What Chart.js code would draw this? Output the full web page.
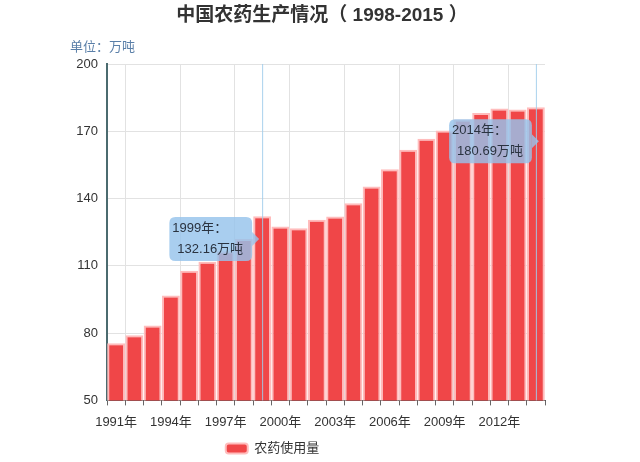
<!DOCTYPE html>
<html>
<head>
<meta charset="utf-8">
<script src="https://cdn.jsdelivr.net/npm/chart.js@4"></script>
<style>
  html, body { margin: 0; padding: 0; background: #fff; }
  #wrap { width: 640px; height: 462px; }
</style>
</head>
<body>
<div id="wrap"><canvas id="pesticideChart" width="640" height="462"></canvas></div>
<script>
// 数据
const years = [
  "1991年", "1992年", "1993年", "1994年", "1995年", "1996年", "1997年", "1998年",
  "1999年", "2000年", "2001年", "2002年", "2003年", "2004年", "2005年", "2006年",
  "2007年", "2008年", "2009年", "2010年", "2011年", "2012年", "2013年", "2014年",
];
const usage = [
  75.5, 79.0, 83.4, 96.8, 107.8, 111.8, 116.5, 122.0,
  132.16, 127.5, 126.8, 130.5, 132.0, 137.9, 145.4, 153.1,
  161.8, 166.7, 170.3, 175.2, 178.2, 180.2, 179.7, 180.69,
];
const yMin = 50;
const yMax = 200;
const yStep = 30;
const seriesName = "农药使用量";
const titleText = "中国农药生产情况（ 1998-2015 ）";
const unitText = "单位：万吨";
const calloutIndexes = [8, 23];

const FONT = "'Liberation Sans', 'Noto Sans CJK SC', sans-serif";

function roundRect(ctx, x, y, w, h, r) {
  ctx.beginPath();
  ctx.moveTo(x + r, y);
  ctx.lineTo(x + w - r, y);
  ctx.quadraticCurveTo(x + w, y, x + w, y + r);
  ctx.lineTo(x + w, y + h - r);
  ctx.quadraticCurveTo(x + w, y + h, x + w - r, y + h);
  ctx.lineTo(x + r, y + h);
  ctx.quadraticCurveTo(x, y + h, x, y + h - r);
  ctx.lineTo(x, y + r);
  ctx.quadraticCurveTo(x, y, x + r, y);
  ctx.closePath();
}

// 标题和单位文字
const headerPlugin = {
  id: "header",
  afterDraw(chart) {
    const ctx = chart.ctx;
    ctx.save();
    ctx.fillStyle = "#333";
    ctx.font = "bold 19px " + FONT;
    ctx.textAlign = "center";
    ctx.textBaseline = "middle";
    ctx.fillText(titleText, 322, 16);
    ctx.fillStyle = "#5a7fa8";
    ctx.font = "13px " + FONT;
    ctx.textAlign = "left";
    ctx.fillText(unitText, 70, 47);
    ctx.restore();
  },
};

// 固定显示的提示框
const calloutPlugin = {
  id: "callouts",
  afterDatasetsDraw(chart, args, opts) {
    const ctx = chart.ctx;
    const xs = chart.scales.x;
    const ys = chart.scales.y;
    const area = chart.chartArea;
    ctx.save();
    opts.items.forEach((item) => {
      const cx = xs.getPixelForValue(item.index);
      ctx.strokeStyle = "rgba(160, 205, 235, 0.9)";
      ctx.lineWidth = 1;
      ctx.beginPath();
      ctx.moveTo(cx + 0.5, area.top);
      ctx.lineTo(cx + 0.5, area.bottom);
      ctx.stroke();
    });
    opts.items.forEach((item) => {
      const cx = xs.getPixelForValue(item.index);
      const tipY = ys.getPixelForValue(item.anchor);
      const tipX = cx + item.dx;
      const line1 = years[item.index] + "：";
      const line2 = usage[item.index].toFixed(2) + "万吨";
      ctx.font = "13px " + FONT;
      const w = Math.max(ctx.measureText(line1).width, ctx.measureText(line2).width + 5) + 12;
      const h = 44;
      const right = tipX - 7;
      const left = right - w;
      const top = tipY - h / 2;
      ctx.fillStyle = "rgba(150, 195, 235, 0.82)";
      roundRect(ctx, left, top, w, h, 6);
      ctx.fill();
      ctx.beginPath();
      ctx.moveTo(right, tipY - 7);
      ctx.lineTo(tipX, tipY);
      ctx.lineTo(right, tipY + 7);
      ctx.closePath();
      ctx.fill();
      ctx.fillStyle = "#2a3340";
      ctx.textAlign = "left";
      ctx.textBaseline = "middle";
      ctx.fillText(line1, left + 3, top + 11);
      ctx.fillText(line2, left + 8, top + 32);
    });
    ctx.restore();
  },
};

const ctx = document.getElementById("pesticideChart").getContext("2d");
new Chart(ctx, {
  type: "bar",
  data: {
    labels: years,
    datasets: [
      {
        label: seriesName,
        data: usage,
        backgroundColor: "#f04648",
        borderColor: "#ffbcbc",
        borderWidth: 2,
        borderSkipped: false,
        categoryPercentage: 1,
        barPercentage: 0.98,
      },
    ],
  },
  options: {
    responsive: false,
    animation: false,
    layout: { padding: { left: 0, right: 95, top: 64, bottom: -3 } },
    scales: {
      x: {
        offset: true,
        grid: {
          offset: true,
          drawTicks: true,
          tickLength: 5,
          color: (c) => (c.index % 3 === 1 || c.index === years.length ? "#e2e2e2" : "rgba(0,0,0,0)"),
          tickColor: "#666",
        },
        border: { color: "#555", width: 1 },
        ticks: {
          autoSkip: false,
          maxRotation: 0,
          padding: 9,
          color: "#333",
          font: { family: FONT, size: 13 },
          callback: function (val, i) {
            return i % 3 === 0 ? this.getLabelForValue(val) : "";
          },
        },
      },
      y: {
        min: yMin,
        max: yMax,
        afterFit: (scale) => {
          scale.width = 107;
        },
        grid: { color: "#e2e2e2", drawTicks: false },
        border: { color: "#4b6b6f", width: 2 },
        ticks: {
          stepSize: yStep,
          padding: 9,
          color: "#333",
          font: { family: FONT, size: 13 },
        },
      },
    },
    plugins: {
      title: { display: false },
      tooltip: { enabled: false },
      legend: {
        position: "bottom",
        labels: {
          boxWidth: 22,
          boxHeight: 10,
          useBorderRadius: true,
          borderRadius: 3,
          color: "#333",
          padding: 3,
          font: { family: FONT, size: 13 },
        },
      },
      callouts: {
        items: [
          { index: calloutIndexes[0], anchor: 122, dx: -3 },
          { index: calloutIndexes[1], anchor: 165.5, dx: 3 },
        ],
      },
    },
  },
  plugins: [headerPlugin, calloutPlugin],
});
</script>
</body>
</html>
